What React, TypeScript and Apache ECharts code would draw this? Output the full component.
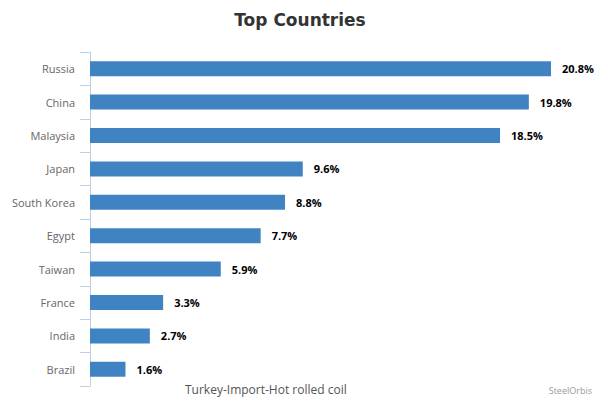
import React, { useEffect, useRef } from "react";
import * as echarts from "echarts";

const categories = ["Russia", "China", "Malaysia", "Japan", "South Korea", "Egypt", "Taiwan", "France", "India", "Brazil"];
const shares = [20.8, 19.8, 18.5, 9.6, 8.8, 7.7, 5.9, 3.3, 2.7, 1.6];

const FONT = "'Open Sans', 'Noto Sans', sans-serif";
const TITLE_FONT = "'DejaVu Sans', Verdana, sans-serif";

export default function App() {
  const ref = useRef<HTMLDivElement>(null);
  useEffect(() => {
    if (!ref.current) return;
    const chart = echarts.init(ref.current, null, { renderer: "svg" });
    chart.setOption({
      animation: false,
      backgroundColor: "#ffffff",
      title: {
        text: "Top Countries",
        left: "center",
        top: 6,
        textStyle: { fontFamily: TITLE_FONT, fontSize: 17, fontWeight: "bold", color: "#333333" },
      },
      grid: { left: 90, top: 52, width: 461, height: 334, containLabel: false },
      xAxis: {
        type: "value",
        min: 0,
        max: 20.8,
        show: false,
      },
      yAxis: {
        type: "category",
        data: categories,
        inverse: true,
        axisLine: { show: true, lineStyle: { color: "#c0d0e0", width: 1 } },
        axisTick: { show: true, length: 10, lineStyle: { color: "#c0d0e0" } },
        axisLabel: { margin: 15, color: "#666666", fontSize: 11, fontFamily: FONT },
        splitLine: { show: false },
      },
      series: [
        {
          type: "bar",
          data: shares,
          barWidth: 15,
          itemStyle: { color: "#4083c3" },
          label: {
            show: true,
            position: "right",
            distance: 11,
            formatter: (p: any) => p.value.toFixed(1) + "%",
            color: "#000000",
            fontWeight: "bold",
            fontSize: 11,
            fontFamily: FONT,
          },
        },
      ],
      graphic: [
        {
          type: "text",
          left: 185,
          top: 383,
          style: { text: "Turkey-Import-Hot rolled coil", fill: "#555555", fontSize: 12, fontFamily: FONT },
        },
        {
          type: "text",
          right: 8,
          top: 386,
          style: { text: "SteelOrbis", fill: "#999999", fontSize: 9, fontFamily: FONT },
        },
      ],
    });
    return () => chart.dispose();
  }, []);
  return <div ref={ref} style={{ position: "fixed", left: 0, top: 0, width: 600, height: 400 }} />;
}
